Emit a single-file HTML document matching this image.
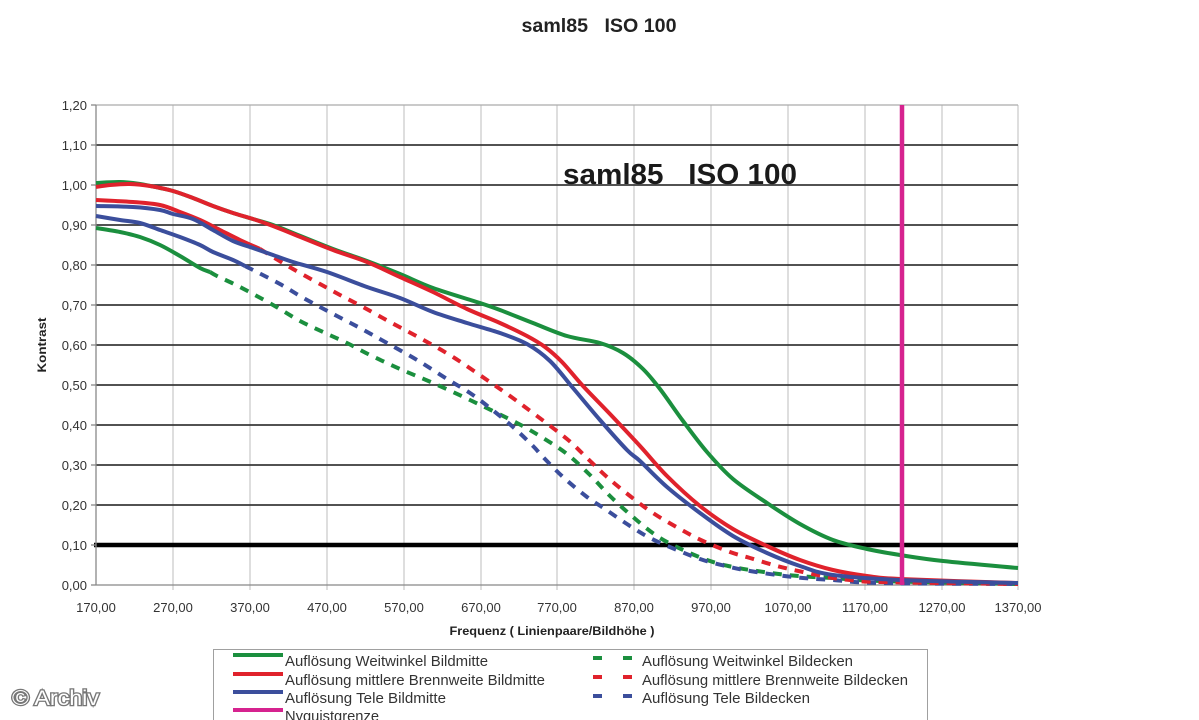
<!DOCTYPE html>
<html><head><meta charset="utf-8"><style>
html,body{margin:0;padding:0;background:#fff;}
svg{display:block;}
text{font-family:"Liberation Sans",Arial,sans-serif;}
</style></head><body>
<svg id="chart" width="1199" height="720" viewBox="0 0 1199 720" xmlns="http://www.w3.org/2000/svg">
<rect width="1199" height="720" fill="#fff"/>
<!-- title -->
<text x="599" y="32" font-size="19" font-weight="bold" text-anchor="middle" fill="#222" textLength="155" lengthAdjust="spacingAndGlyphs" style="white-space:pre">saml85   ISO 100</text>

<!-- vertical grid -->
<g stroke="#bdbdbd" stroke-width="1">
<line x1="173" y1="105" x2="173" y2="590"/>
<line x1="250" y1="105" x2="250" y2="590"/>
<line x1="327" y1="105" x2="327" y2="590"/>
<line x1="404" y1="105" x2="404" y2="590"/>
<line x1="481" y1="105" x2="481" y2="590"/>
<line x1="557" y1="105" x2="557" y2="590"/>
<line x1="634" y1="105" x2="634" y2="590"/>
<line x1="711" y1="105" x2="711" y2="590"/>
<line x1="788" y1="105" x2="788" y2="590"/>
<line x1="865" y1="105" x2="865" y2="590"/>
<line x1="942" y1="105" x2="942" y2="590"/>
<line x1="1018" y1="105" x2="1018" y2="590"/>
</g>
<!-- horizontal grid -->
<line x1="96" y1="105" x2="1018" y2="105" stroke="#aaa" stroke-width="1.2"/>
<g stroke="#3a3a3a" stroke-width="1.8">
<line x1="96" y1="145" x2="1018" y2="145"/>
<line x1="96" y1="185" x2="1018" y2="185"/>
<line x1="96" y1="225" x2="1018" y2="225"/>
<line x1="96" y1="265" x2="1018" y2="265"/>
<line x1="96" y1="305" x2="1018" y2="305"/>
<line x1="96" y1="345" x2="1018" y2="345"/>
<line x1="96" y1="385" x2="1018" y2="385"/>
<line x1="96" y1="425" x2="1018" y2="425"/>
<line x1="96" y1="465" x2="1018" y2="465"/>
<line x1="96" y1="505" x2="1018" y2="505"/>
</g>
<line x1="94" y1="545" x2="1018" y2="545" stroke="#000" stroke-width="4.5"/>
<!-- axes -->
<g stroke="#888" stroke-width="1.3">
<line x1="96" y1="105" x2="96" y2="585"/>
<line x1="96" y1="585" x2="1018" y2="585"/>
<line x1="91" y1="105" x2="96" y2="105"/><line x1="91" y1="145" x2="96" y2="145"/><line x1="91" y1="185" x2="96" y2="185"/><line x1="91" y1="225" x2="96" y2="225"/><line x1="91" y1="265" x2="96" y2="265"/><line x1="91" y1="305" x2="96" y2="305"/><line x1="91" y1="345" x2="96" y2="345"/><line x1="91" y1="385" x2="96" y2="385"/><line x1="91" y1="425" x2="96" y2="425"/><line x1="91" y1="465" x2="96" y2="465"/><line x1="91" y1="505" x2="96" y2="505"/><line x1="91" y1="545" x2="96" y2="545"/><line x1="91" y1="585" x2="96" y2="585"/>
</g>

<!-- y labels -->
<g font-size="13" fill="#333" text-anchor="end">
<text x="87" y="110">1,20</text>
<text x="87" y="150">1,10</text>
<text x="87" y="190">1,00</text>
<text x="87" y="230">0,90</text>
<text x="87" y="270">0,80</text>
<text x="87" y="310">0,70</text>
<text x="87" y="350">0,60</text>
<text x="87" y="390">0,50</text>
<text x="87" y="430">0,40</text>
<text x="87" y="470">0,30</text>
<text x="87" y="510">0,20</text>
<text x="87" y="550">0,10</text>
<text x="87" y="590">0,00</text>
</g>
<!-- x labels -->
<g font-size="13" fill="#333" text-anchor="middle">
<text x="96" y="612">170,00</text>
<text x="173" y="612">270,00</text>
<text x="250" y="612">370,00</text>
<text x="327" y="612">470,00</text>
<text x="404" y="612">570,00</text>
<text x="481" y="612">670,00</text>
<text x="557" y="612">770,00</text>
<text x="634" y="612">870,00</text>
<text x="711" y="612">970,00</text>
<text x="788" y="612">1070,00</text>
<text x="865" y="612">1170,00</text>
<text x="942" y="612">1270,00</text>
<text x="1018" y="612">1370,00</text>
</g>
<text x="552" y="635" font-size="12" font-weight="bold" fill="#222" text-anchor="middle" textLength="205" lengthAdjust="spacingAndGlyphs">Frequenz ( Linienpaare/Bildhöhe )</text>
<text transform="translate(46,345) rotate(-90)" font-size="12" font-weight="bold" fill="#222" text-anchor="middle" textLength="55" lengthAdjust="spacingAndGlyphs">Kontrast</text>

<!-- inner title -->
<text x="563" y="184" font-size="29" font-weight="bold" fill="#1a1a1a" textLength="234" lengthAdjust="spacingAndGlyphs" style="white-space:pre">saml85   ISO 100</text>

<!-- series -->
<g fill="none" stroke-width="4" stroke-linejoin="round" stroke-linecap="butt">
<polyline class="s" stroke="#1b8f3e" points="96,228 120,232 140,237 160,245 180,256 200,268 210,272"/>
<polyline class="s" stroke="#1b8f3e" stroke-dasharray="9 8" points="210,272 217,276 240,287 273,305 300,321 323,332 347,343 370,355 400,369 433,383 470,400 517,423 543,438 567,454 590,475 610,496 633,517 657,536 683,550 710,561 733,567 757,571 787,575 813,577 833,578 880,581 1018,584"/>
<polyline class="s" stroke="#3b4e9c" points="96,216 120,220 140,223 160,230 180,237 200,245 213,252 233,260 245,266"/>
<polyline class="s" stroke="#3b4e9c" stroke-dasharray="9 8" points="245,266 253,270 280,284 300,296 320,307 337,316 360,328 387,343 417,360 447,379 470,393 490,408 513,427 533,446 543,457 563,477 587,497 605,509 627,524 650,538 677,550 703,560 730,567 750,571 777,575 803,578 833,580 880,583 1018,584"/>
<polyline class="s" stroke="#e0222c" points="96,200 133,202 160,205 180,212 200,220 220,230 240,240 260,249"/>
<polyline class="s" stroke="#e0222c" stroke-dasharray="9 8" points="260,249 273,257 293,269 320,284 340,295 363,307 390,322 420,338 453,357 487,380 510,396 533,413 567,439 587,458 607,477 630,496 653,513 680,529 703,541 730,552 750,558 777,566 803,572 833,578 850,580 880,582 1018,584"/>
<polyline class="s" stroke="#1b8f3e" points="96,183 120,182 140,184 160,188 173,191 193,198 213,206 233,213 253,219 273,225 293,233 333,249 367,261 400,274 433,288 480,303 500,310 533,323 567,336 600,343 623,353 643,369 660,389 683,421 707,452 733,479 767,503 800,524 833,540 867,549 900,555 943,561 1018,568"/>
<polyline class="s" stroke="#e0222c" points="96,187 110,185 130,184 150,186 173,191 193,198 213,206 233,213 253,219 273,226 293,234 333,250 367,262 400,277 433,292 467,309 500,323 527,336 545,347 562,362 583,386 610,414 640,446 667,476 700,506 733,529 767,546 800,560 833,570 867,576 900,579 1018,583"/>
<polyline class="s" stroke="#3b4e9c" points="96,206 133,207 160,210 173,214 193,219 213,230 233,241 253,248 273,255 293,262 327,272 367,287 400,298 433,312 467,323 500,333 527,344 550,361 573,388 600,420 627,450 640,461 667,487 700,513 733,536 767,553 800,566 833,575 900,580 1018,583"/>
</g>
<!-- Nyquist -->
<line x1="902" y1="105" x2="902" y2="585" stroke="#d6238f" stroke-width="4.5"/>

<!-- legend -->
<rect x="213.5" y="649.5" width="714" height="80" fill="#fff" stroke="#a0a0a0" stroke-width="1"/>
<g stroke-width="4">
<line x1="233" y1="655" x2="283" y2="655" stroke="#1b8f3e"/>
<line x1="233" y1="674" x2="283" y2="674" stroke="#e0222c"/>
<line x1="233" y1="692" x2="283" y2="692" stroke="#3b4e9c"/>
<line x1="233" y1="710" x2="283" y2="710" stroke="#d6238f"/>
<line x1="593" y1="658" x2="602" y2="658" stroke="#1b8f3e"/><line x1="623" y1="658" x2="632" y2="658" stroke="#1b8f3e"/>
<line x1="593" y1="677" x2="602" y2="677" stroke="#e0222c"/><line x1="623" y1="677" x2="632" y2="677" stroke="#e0222c"/>
<line x1="593" y1="696" x2="602" y2="696" stroke="#3b4e9c"/><line x1="623" y1="696" x2="632" y2="696" stroke="#3b4e9c"/>
</g>
<g font-size="14.5" fill="#333">
<text x="285" y="666" textLength="203" lengthAdjust="spacingAndGlyphs">Auflösung Weitwinkel Bildmitte</text>
<text x="285" y="685" textLength="260" lengthAdjust="spacingAndGlyphs">Auflösung mittlere Brennweite Bildmitte</text>
<text x="285" y="703" textLength="161" lengthAdjust="spacingAndGlyphs">Auflösung Tele Bildmitte</text>
<text x="285" y="721" textLength="94" lengthAdjust="spacingAndGlyphs">Nyquistgrenze</text>
<text x="642" y="666" textLength="211" lengthAdjust="spacingAndGlyphs">Auflösung Weitwinkel Bildecken</text>
<text x="642" y="685" textLength="266" lengthAdjust="spacingAndGlyphs">Auflösung mittlere Brennweite Bildecken</text>
<text x="642" y="703" textLength="168" lengthAdjust="spacingAndGlyphs">Auflösung Tele Bildecken</text>
</g>

<!-- watermark -->
<text x="12" y="705" font-size="21" fill="#fff" stroke="#777" stroke-width="2.5" paint-order="stroke" textLength="87" lengthAdjust="spacingAndGlyphs">© Archiv</text>
</svg>
<script>
(function(){
  var NS="http://www.w3.org/2000/svg";
  var pls=document.querySelectorAll("polyline.s");
  for(var i=0;i<pls.length;i++){
    var pl=pls[i];
    var pts=pl.getAttribute("points").trim().split(/\s+/).map(function(p){var a=p.split(",");return [parseFloat(a[0]),parseFloat(a[1])];});
    if(pts.length<3)continue;
    var d="M"+pts[0][0]+","+pts[0][1];
    for(var k=0;k<pts.length-1;k++){
      var p0=pts[k>0?k-1:0],p1=pts[k],p2=pts[k+1],p3=pts[k+2<pts.length?k+2:pts.length-1];
      var t=0.5/3*2;
      var c1x=p1[0]+(p2[0]-p0[0])/6,c1y=p1[1]+(p2[1]-p0[1])/6;
      var c2x=p2[0]-(p3[0]-p1[0])/6,c2y=p2[1]-(p3[1]-p1[1])/6;
      d+=" C"+c1x.toFixed(2)+","+c1y.toFixed(2)+" "+c2x.toFixed(2)+","+c2y.toFixed(2)+" "+p2[0]+","+p2[1];
    }
    var path=document.createElementNS(NS,"path");
    path.setAttribute("d",d);
    var attrs=["stroke","stroke-dasharray"];
    for(var j=0;j<attrs.length;j++){var v=pl.getAttribute(attrs[j]);if(v)path.setAttribute(attrs[j],v);}
    pl.parentNode.replaceChild(path,pl);
  }
})();
</script>
</body></html>
